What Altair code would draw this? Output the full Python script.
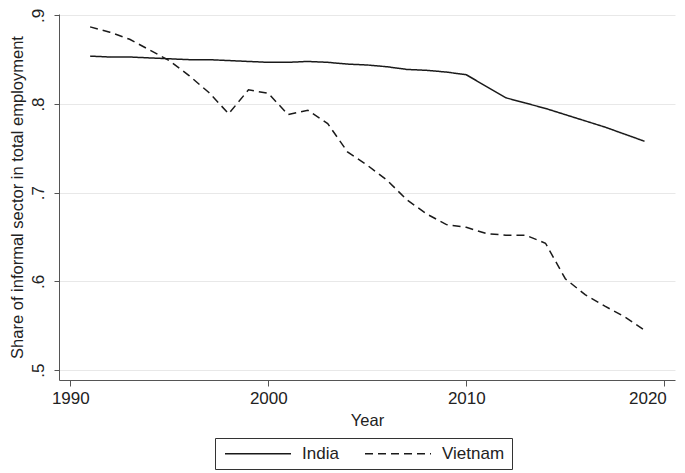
import altair as alt
import pandas as pd

years = list(range(1991, 2020))
india = [0.854, 0.853, 0.853, 0.852, 0.851, 0.850, 0.850, 0.849, 0.848, 0.847,
         0.847, 0.848, 0.847, 0.845, 0.844, 0.842, 0.839, 0.838, 0.836, 0.833,
         0.820, 0.807, 0.801, 0.795, 0.788, 0.781, 0.774, 0.766, 0.758]
vietnam = [0.887, 0.881, 0.873, 0.861, 0.849, 0.832, 0.813, 0.789, 0.816, 0.812,
           0.788, 0.793, 0.778, 0.746, 0.731, 0.714, 0.692, 0.676, 0.664, 0.661,
           0.654, 0.652, 0.652, 0.643, 0.603, 0.585, 0.572, 0.560, 0.545]
countries = ["India", "Vietnam"]

rows = []
for y, a, b in zip(years, india, vietnam):
    rows.append({"Year": y, "Country": countries[0], "Share": a})
    rows.append({"Year": y, "Country": countries[1], "Share": b})
df = pd.DataFrame(rows)

FONT = "Liberation Sans"

chart = alt.Chart(df).mark_line(strokeWidth=1.5, color="#1a1a1a").encode(
    x=alt.X("Year:Q", scale=alt.Scale(domain=[1989.43, 2020.54], nice=False, zero=False),
            axis=alt.Axis(values=[1990, 2000, 2010, 2020], format="d", title="Year",
                          grid=False, tickSize=6, labelPadding=4, titlePadding=6,
                          labelFontSize=17, titleFontSize=16.5,
                          labelFlush=11, labelFlushOffset=2)),
    y=alt.Y("Share:Q", scale=alt.Scale(domain=[0.4888, 0.9015], nice=False, zero=False),
            axis=alt.Axis(values=[0.5, 0.6, 0.7, 0.8, 0.9],
                          labelExpr="substring(format(datum.value, '.1f'), 1)",
                          title="Share of informal sector in total employment",
                          labelAngle=-90, tickSize=5, labelPadding=7, titlePadding=4,
                          labelFontSize=17, titleFontSize=16.5, gridColor="#e8e8e8",
                          labelFlush=False)),
    strokeDash=alt.StrokeDash("Country:N", sort=countries,
                              scale=alt.Scale(domain=countries, range=[[1, 0], [8, 5]]),
                              legend=alt.Legend(title=None, orient="none", direction="horizontal",
                                                legendX=156, legendY=424,
                                                symbolType="M-1,0H11", symbolSize=121,
                                                symbolStrokeWidth=1.5, symbolStrokeColor="#1a1a1a",
                                                labelFontSize=17, labelFont=FONT, labelColor="#222",
                                                strokeColor="#333", padding=7,
                                                columnPadding=23, labelOffset=63)),
).properties(
    width=616, height=366,
    autosize=alt.AutoSizeParams(type="none"),
    padding={"left": 51, "top": 6, "right": 2, "bottom": 92},
    background="white",
).configure_axis(
    labelFont=FONT, titleFont=FONT, labelColor="#222", titleColor="#222",
    domainColor="#555", tickColor="#555", titleFontWeight="normal",
).configure_view(stroke=None)

chart.save("out.html", embed_options={"renderer": "svg", "actions": False})
